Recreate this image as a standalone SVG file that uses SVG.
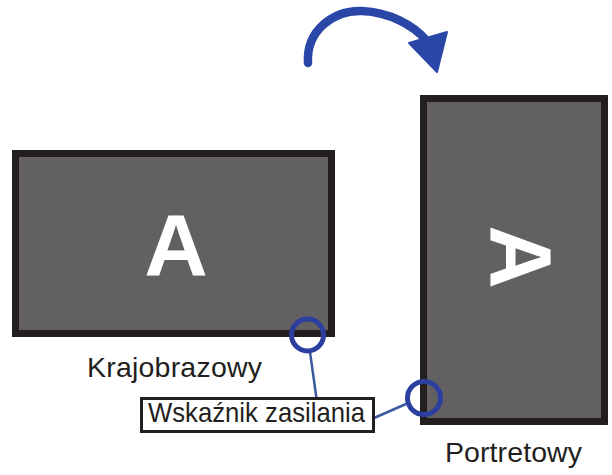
<svg xmlns="http://www.w3.org/2000/svg" width="612" height="475" viewBox="0 0 612 475">
<style>
.screen{fill:#636061;stroke:#231f20;stroke-width:7}
.big{font-family:"Liberation Sans",Arial,sans-serif;font-weight:bold;font-size:88px;fill:#ffffff;text-anchor:middle}
.lbl{font-family:"Liberation Sans",Arial,sans-serif;font-size:28.5px;fill:#231f20}
.ring{fill:none;stroke:#2c3f9e;stroke-width:5}
.conn{stroke:#3b5aa0;stroke-width:2.5;fill:none}
</style>
<rect width="612" height="475" fill="#ffffff"/>
<g id="rotate-arrow">
<path d="M308,63 C306,30 334,10 362,11 C390,12 414,26 426,40" fill="none" stroke="#2a47a8" stroke-width="8.5" stroke-linecap="round"/>
<polygon points="409,43 447,32 437,72" fill="#2a47a8" stroke="#2a47a8" stroke-width="2" stroke-linejoin="round"/>
</g>
<g id="landscape">
<rect class="screen" x="15.5" y="153.5" width="316" height="180"/>
<text class="big" x="176" y="275">A</text>
<text class="lbl" x="87" y="377" textLength="175" lengthAdjust="spacing">Krajobrazowy</text>
</g>
<g id="portrait">
<rect class="screen" x="423.5" y="98.5" width="181" height="323"/>
<text class="big" transform="translate(522,257) rotate(90)" x="0" y="31.5">A</text>
<text class="lbl" x="445" y="462" textLength="137" lengthAdjust="spacing">Portretowy</text>
</g>
<g id="connectors">
<line class="conn" x1="310" y1="352" x2="317" y2="402"/>
<line class="conn" x1="374" y1="418" x2="406" y2="404"/>
</g>
<g id="indicator-landscape">
<circle class="ring" cx="307.5" cy="335" r="16"/>
</g>
<g id="indicator-portrait">
<circle class="ring" cx="424" cy="398" r="16.5"/>
</g>
<g id="indicator-label">
<rect x="141.5" y="398.5" width="232" height="33" fill="#ffffff" stroke="#231f20" stroke-width="3"/>
<text class="lbl" x="148" y="422" font-size="25.7" textLength="217" lengthAdjust="spacingAndGlyphs">Wskaźnik zasilania</text>
</g>
</svg>
